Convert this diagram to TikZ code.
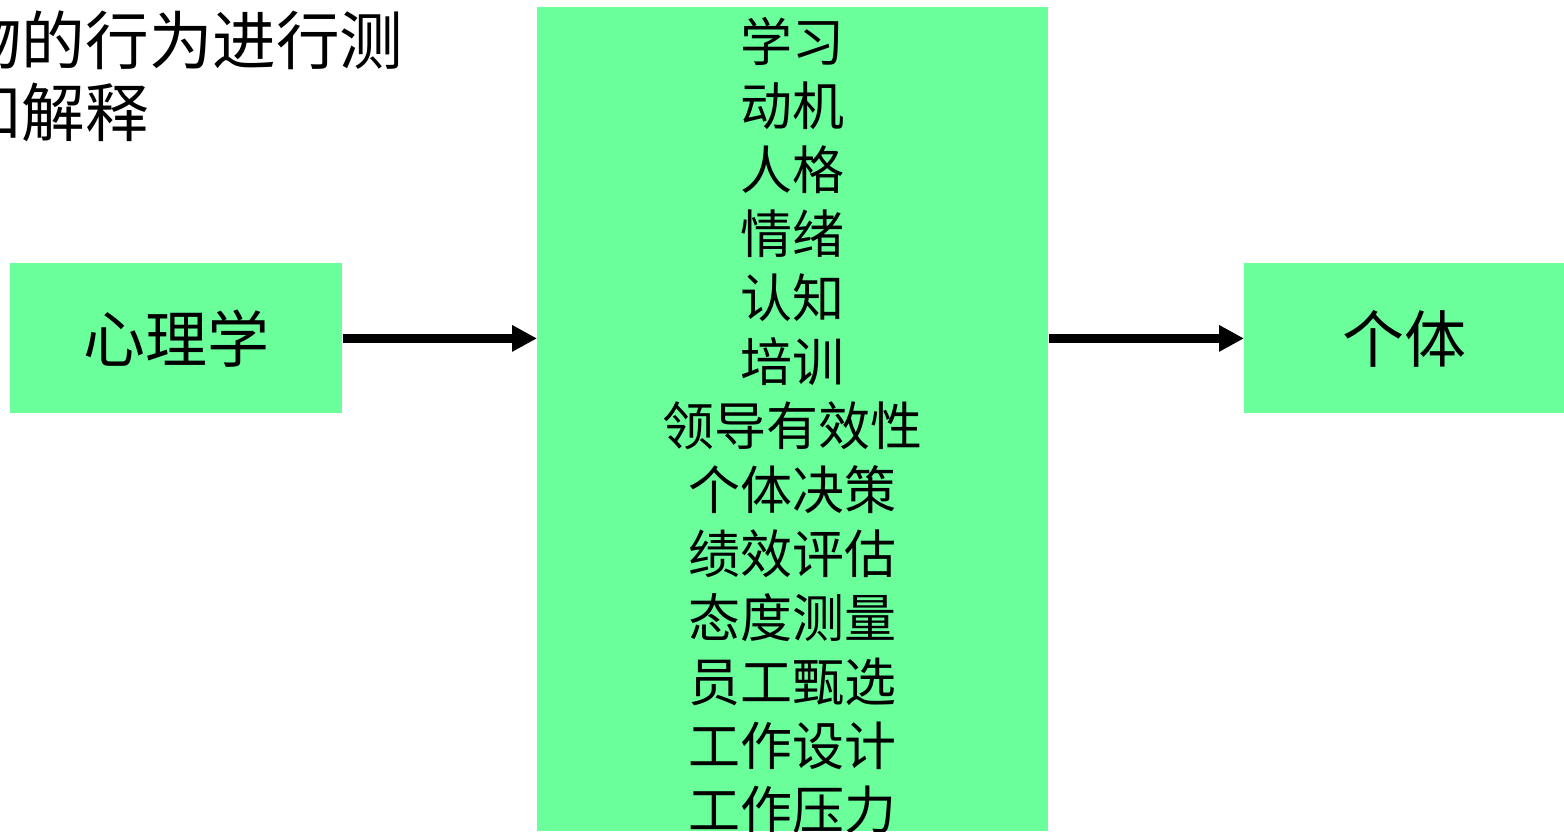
\documentclass[tikz,border=0pt]{standalone}
\usepackage{fontspec}
\setmainfont{Noto Sans CJK SC}
\usetikzlibrary{arrows.meta}
\definecolor{boxgreen}{RGB}{106,255,154}
\begin{document}
\begin{tikzpicture}[x=0.5pt,y=-0.5pt,
  greenbox/.style={fill=boxgreen,draw=none,inner sep=0pt,anchor=north west},
  flowarrow/.style={line width=4.5pt,-{Triangle[length=12.5pt,width=12.5pt]}},
  bigtext/.style={font=\fontsize{31pt}{36pt}\selectfont},
  listtext/.style={font=\fontsize{26pt}{32pt}\selectfont,align=center,inner sep=0pt}]
\useasboundingbox (0,0) rectangle (1564,831);
\clip (0,0) rectangle (1564,831);
% top-left partial text
\node[anchor=west,align=left,inner sep=0pt,font=\fontsize{31.8pt}{36pt}\selectfont] (intro) at (-42,76) {物的行为进行测\\和解释};
% boxes
\node[greenbox,minimum width=166pt,minimum height=75pt] (psy) at (10,263) {};
\node[bigtext] (psytext) at (psy.center) {心理学};
\node[greenbox,minimum width=255.5pt,minimum height=412pt] (mid) at (537,7) {};
\node[listtext] (topics) at (792,426) {学习\\动机\\人格\\情绪\\认知\\培训\\领导有效性\\个体决策\\绩效评估\\态度测量\\员工甄选\\工作设计\\工作压力};
\node[greenbox,minimum width=160pt,minimum height=75pt] (ind) at (1244,263) {};
\node[bigtext] (indtext) at (ind.center) {个体};
% arrows
\draw[flowarrow] (psy.east) -- (psy.east -| mid.west);
\draw[flowarrow] (ind.west -| mid.east) -- (ind.west);
\end{tikzpicture}
\end{document}
